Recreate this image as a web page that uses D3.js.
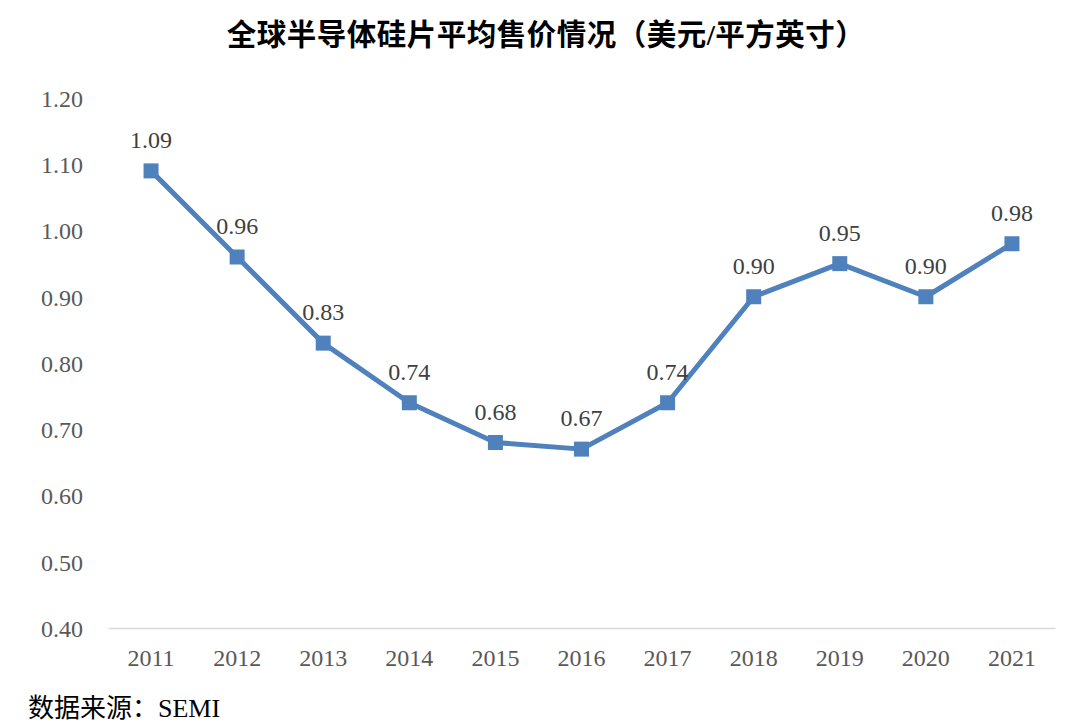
<!DOCTYPE html>
<html>
<head>
<meta charset="utf-8">
<script src="https://cdn.jsdelivr.net/npm/d3@7"></script>
<style>
  body { margin: 0; background: #fff; }
  svg { display: block; }
</style>
</head>
<body>
<div id="chart"></div>
<script>
// Data
const years = ['2011', '2012', '2013', '2014', '2015', '2016', '2017', '2018', '2019', '2020', '2021'];
const prices = [1.09, 0.96, 0.83, 0.74, 0.68, 0.67, 0.74, 0.90, 0.95, 0.90, 0.98];
const yTicks = [0.40, 0.50, 0.60, 0.70, 0.80, 0.90, 1.00, 1.10, 1.20];

const width = 1080;
const height = 725;
const margin = { top: 98, right: 25, bottom: 97, left: 108 };
const serif = '"Liberation Serif", "Times New Roman", "Noto Sans CJK SC", serif';

const svg = d3.select('#chart')
  .append('svg')
  .attr('width', width)
  .attr('height', height);

// Title
svg.append('text')
  .attr('x', 546)
  .attr('y', 45)
  .attr('text-anchor', 'middle')
  .attr('font-family', serif)
  .attr('font-weight', 'bold')
  .attr('font-size', '29.5px')
  .attr('letter-spacing', '0.5px')
  .attr('fill', '#000')
  .text('全球半导体硅片平均售价情况（美元/平方英寸）');

// Scales
const x = d3.scaleBand()
  .domain(years)
  .range([margin.left, width - margin.right]);

const y = d3.scaleLinear()
  .domain([0.4, 1.2])
  .range([height - margin.bottom, margin.top]);

// Y axis (labels only)
const yAxis = svg.append('g')
  .attr('transform', `translate(${margin.left - 22},0)`)
  .call(d3.axisLeft(y).tickValues(yTicks).tickFormat(d3.format('.2f')).tickSize(0));
yAxis.select('.domain').remove();
yAxis.selectAll('text')
  .attr('font-family', serif)
  .attr('font-size', '24px')
  .attr('fill', '#595959')
  .attr('dy', '0.35em');

// X axis
const xAxis = svg.append('g')
  .attr('transform', `translate(0,${height - margin.bottom})`)
  .call(d3.axisBottom(x).tickSize(0).tickPadding(21));
xAxis.select('.domain')
  .attr('stroke', '#d9d9d9')
  .attr('stroke-width', 1.5);
xAxis.selectAll('text')
  .attr('font-family', serif)
  .attr('font-size', '24px')
  .attr('fill', '#595959');

const cx = d => x(d) + x.bandwidth() / 2;

// Line
const line = d3.line()
  .x((d, i) => cx(years[i]))
  .y(d => y(d));

svg.append('path')
  .datum(prices)
  .attr('fill', 'none')
  .attr('stroke', '#4f81bd')
  .attr('stroke-width', 5)
  .attr('stroke-linejoin', 'round')
  .attr('d', line);

// Markers
const ms = 15;
svg.selectAll('.marker')
  .data(prices)
  .enter()
  .append('rect')
  .attr('class', 'marker')
  .attr('x', (d, i) => cx(years[i]) - ms / 2)
  .attr('y', d => y(d) - ms / 2)
  .attr('width', ms)
  .attr('height', ms)
  .attr('fill', '#4f81bd');

// Data labels
svg.selectAll('.label')
  .data(prices)
  .enter()
  .append('text')
  .attr('class', 'label')
  .attr('x', (d, i) => cx(years[i]))
  .attr('y', d => y(d) - 23)
  .attr('text-anchor', 'middle')
  .attr('font-family', serif)
  .attr('font-size', '24px')
  .attr('fill', '#404040')
  .text(d => d.toFixed(2));

// Source
svg.append('text')
  .attr('x', 28)
  .attr('y', 717)
  .attr('font-family', serif)
  .attr('font-size', '26px')
  .attr('fill', '#000')
  .text('数据来源：SEMI');
</script>
</body>
</html>
